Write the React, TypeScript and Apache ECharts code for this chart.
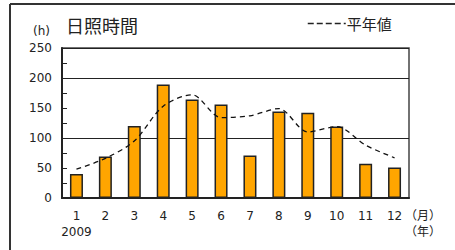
import React, { useEffect, useRef } from "react";
import * as echarts from "echarts";

const months = ["1", "2", "3", "4", "5", "6", "7", "8", "9", "10", "11", "12"];
const sunshine2009 = [40, 69, 120, 189, 164, 156, 71, 144, 142, 119, 57, 51];
const normalValues = [48, 66, 95, 153, 172, 134, 137, 149, 110, 119, 88, 67];
const yTicks = { min: 0, max: 250, interval: 50 };

export default function App() {
  const ref = useRef<HTMLDivElement>(null);
  useEffect(() => {
    if (!ref.current) return;
    const chart = echarts.init(ref.current, null, { renderer: "svg" });
    const font = "'DejaVu Sans', sans-serif";
    const cjk = "'Noto Sans CJK JP', sans-serif";
    chart.setOption({
      animation: false,
      backgroundColor: "#fff",
      textStyle: { fontFamily: font },
      grid: {
        left: 62,
        top: 48,
        right: 46,
        bottom: 52,
        show: true,
        borderColor: "#444",
        borderWidth: 1.5,
        backgroundColor: "transparent",
      },
      legend: {
        data: ["平年値"],
        left: 302,
        top: 11,
        itemWidth: 38,
        itemHeight: 10,
        itemStyle: { opacity: 0 },
        lineStyle: { type: [6, 3], width: 1.5, color: "#222" },
        textStyle: { fontSize: 15, color: "#222", fontFamily: cjk, padding: [0, 0, 0, -4] },
      },
      xAxis: {
        type: "category",
        data: months,
        axisLine: { lineStyle: { color: "#222", width: 2 } },
        axisTick: { alignWithLabel: true, length: 6, lineStyle: { color: "#222", width: 1.5 } },
        axisLabel: {
          interval: 0,
          color: "#222",
          fontSize: 12,
          margin: 10,
          lineHeight: 16,
          formatter: (v: string, i: number) => (i === 0 ? v + "\n2009" : v),
        },
      },
      yAxis: [
        {
          type: "value",
          min: yTicks.min,
          max: yTicks.max,
          interval: yTicks.interval,
          axisLine: { show: true, lineStyle: { color: "#222", width: 2 } },
          axisTick: { show: true, inside: true, length: 5, lineStyle: { color: "#222" } },
          minorTick: { show: true, splitNumber: 2, length: 5, lineStyle: { color: "#222" } },
          axisLabel: { color: "#222", fontSize: 12, margin: 10 },
          splitLine: { show: false },
        },
        {
          type: "value",
          min: 0,
          max: 250,
          interval: 100,
          position: "left",
          axisLine: { show: false },
          axisTick: { show: false },
          axisLabel: { show: false },
          splitLine: { show: true, lineStyle: { color: "#222", width: 1 } },
        },
      ],
      series: [
        {
          name: "2009",
          type: "bar",
          data: sunshine2009,
          barWidth: 13,
          itemStyle: { color: "#FFA500", borderColor: "#222", borderWidth: 1.5 },
          z: 2,
        },
        {
          name: "平年値",
          type: "line",
          data: normalValues,
          symbol: "none",
          smooth: 0.3,
          lineStyle: { color: "#111", width: 1.3, type: [5, 4] },
          itemStyle: { color: "#111" },
          z: 3,
        },
      ],
      graphic: [
        { type: "line", shape: { x1: 10, y1: 4, x2: 455, y2: 4 }, style: { stroke: "#333", lineWidth: 2 } },
        { type: "line", shape: { x1: 10, y1: 4, x2: 10, y2: 250 }, style: { stroke: "#333", lineWidth: 2 } },
        {
          type: "text",
          left: 66,
          top: 16,
          style: { text: "日照時間", fontSize: 18, fill: "#222", fontFamily: cjk },
        },
        {
          type: "text",
          left: 33,
          top: 25,
          style: { text: "(h)", fontSize: 12, fill: "#222", fontFamily: font },
        },
        {
          type: "text",
          left: 405,
          top: 206,
          style: {
            text: "（月）\n（年）",
            fontSize: 12,
            lineHeight: 16,
            fill: "#222",
            fontFamily: cjk,
          },
        },
      ],
    });
    return () => chart.dispose();
  }, []);
  return <div ref={ref} style={{ width: 455, height: 250, position: "absolute", left: 0, top: 0 }} />;
}
